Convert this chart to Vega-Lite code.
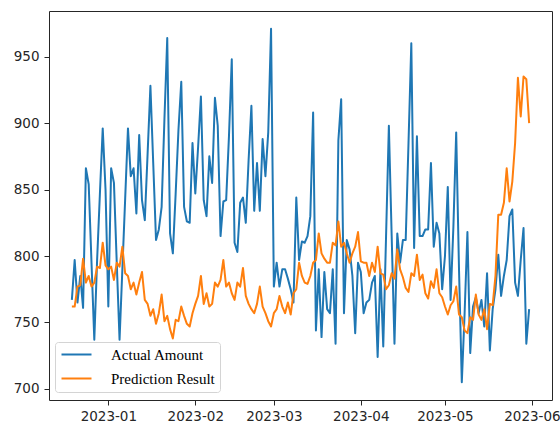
{
  "$schema": "https://vega.github.io/schema/vega-lite/v6.json",
  "width": 503,
  "height": 389,
  "autosize": {"type": "none"},
  "padding": {"left": 49, "top": 11, "right": 8, "bottom": 25},
  "background": "white",
  "config": {
    "view": {"stroke": "#262626", "strokeWidth": 1},
    "axis": {
      "grid": false,
      "domain": false,
      "ticks": true,
      "tickSize": 5,
      "tickWidth": 1,
      "tickColor": "#262626",
      "labelFont": "DejaVu Sans",
      "labelFontSize": 13.5,
      "labelColor": "#262626",
      "labelPadding": 4,
      "title": null
    }
  },
  "data": {
    "values": [
      {"date": "2022-12-19", "Actual Amount": 767, "Prediction Result": 762},
      {"date": "2022-12-20", "Actual Amount": 797, "Prediction Result": 762},
      {"date": "2022-12-21", "Actual Amount": 765, "Prediction Result": 777},
      {"date": "2022-12-22", "Actual Amount": 785, "Prediction Result": 778},
      {"date": "2022-12-23", "Actual Amount": 761, "Prediction Result": 798},
      {"date": "2022-12-24", "Actual Amount": 866, "Prediction Result": 780},
      {"date": "2022-12-25", "Actual Amount": 854, "Prediction Result": 785},
      {"date": "2022-12-26", "Actual Amount": 795, "Prediction Result": 777},
      {"date": "2022-12-27", "Actual Amount": 737, "Prediction Result": 780},
      {"date": "2022-12-28", "Actual Amount": 797, "Prediction Result": 792},
      {"date": "2022-12-29", "Actual Amount": 847, "Prediction Result": 791},
      {"date": "2022-12-30", "Actual Amount": 896, "Prediction Result": 810},
      {"date": "2022-12-31", "Actual Amount": 850, "Prediction Result": 793},
      {"date": "2023-01-01", "Actual Amount": 762, "Prediction Result": 790},
      {"date": "2023-01-02", "Actual Amount": 866, "Prediction Result": 792},
      {"date": "2023-01-03", "Actual Amount": 855, "Prediction Result": 782},
      {"date": "2023-01-04", "Actual Amount": 795, "Prediction Result": 795},
      {"date": "2023-01-05", "Actual Amount": 737, "Prediction Result": 792},
      {"date": "2023-01-06", "Actual Amount": 790, "Prediction Result": 807},
      {"date": "2023-01-07", "Actual Amount": 843, "Prediction Result": 787},
      {"date": "2023-01-08", "Actual Amount": 896, "Prediction Result": 785},
      {"date": "2023-01-09", "Actual Amount": 860, "Prediction Result": 775},
      {"date": "2023-01-10", "Actual Amount": 866, "Prediction Result": 780},
      {"date": "2023-01-11", "Actual Amount": 832, "Prediction Result": 771},
      {"date": "2023-01-12", "Actual Amount": 891, "Prediction Result": 780},
      {"date": "2023-01-13", "Actual Amount": 842, "Prediction Result": 788},
      {"date": "2023-01-14", "Actual Amount": 827, "Prediction Result": 767},
      {"date": "2023-01-15", "Actual Amount": 877, "Prediction Result": 764},
      {"date": "2023-01-16", "Actual Amount": 928, "Prediction Result": 755},
      {"date": "2023-01-17", "Actual Amount": 870, "Prediction Result": 760},
      {"date": "2023-01-18", "Actual Amount": 812, "Prediction Result": 749},
      {"date": "2023-01-19", "Actual Amount": 820, "Prediction Result": 757},
      {"date": "2023-01-20", "Actual Amount": 837, "Prediction Result": 771},
      {"date": "2023-01-21", "Actual Amount": 903, "Prediction Result": 751},
      {"date": "2023-01-22", "Actual Amount": 964, "Prediction Result": 755},
      {"date": "2023-01-23", "Actual Amount": 817, "Prediction Result": 745},
      {"date": "2023-01-24", "Actual Amount": 802, "Prediction Result": 738},
      {"date": "2023-01-25", "Actual Amount": 847, "Prediction Result": 752},
      {"date": "2023-01-26", "Actual Amount": 895, "Prediction Result": 751},
      {"date": "2023-01-27", "Actual Amount": 931, "Prediction Result": 762},
      {"date": "2023-01-28", "Actual Amount": 837, "Prediction Result": 755},
      {"date": "2023-01-29", "Actual Amount": 826, "Prediction Result": 749},
      {"date": "2023-01-30", "Actual Amount": 825, "Prediction Result": 747},
      {"date": "2023-01-31", "Actual Amount": 885, "Prediction Result": 757},
      {"date": "2023-02-01", "Actual Amount": 847, "Prediction Result": 764},
      {"date": "2023-02-02", "Actual Amount": 882, "Prediction Result": 770},
      {"date": "2023-02-03", "Actual Amount": 920, "Prediction Result": 785},
      {"date": "2023-02-04", "Actual Amount": 842, "Prediction Result": 764},
      {"date": "2023-02-05", "Actual Amount": 830, "Prediction Result": 772},
      {"date": "2023-02-06", "Actual Amount": 875, "Prediction Result": 762},
      {"date": "2023-02-07", "Actual Amount": 855, "Prediction Result": 764},
      {"date": "2023-02-08", "Actual Amount": 919, "Prediction Result": 780},
      {"date": "2023-02-09", "Actual Amount": 898, "Prediction Result": 777},
      {"date": "2023-02-10", "Actual Amount": 815, "Prediction Result": 782},
      {"date": "2023-02-11", "Actual Amount": 841, "Prediction Result": 797},
      {"date": "2023-02-12", "Actual Amount": 842, "Prediction Result": 777},
      {"date": "2023-02-13", "Actual Amount": 890, "Prediction Result": 780},
      {"date": "2023-02-14", "Actual Amount": 948, "Prediction Result": 772},
      {"date": "2023-02-15", "Actual Amount": 810, "Prediction Result": 767},
      {"date": "2023-02-16", "Actual Amount": 803, "Prediction Result": 780},
      {"date": "2023-02-17", "Actual Amount": 840, "Prediction Result": 777},
      {"date": "2023-02-18", "Actual Amount": 844, "Prediction Result": 791},
      {"date": "2023-02-19", "Actual Amount": 825, "Prediction Result": 770},
      {"date": "2023-02-20", "Actual Amount": 872, "Prediction Result": 764},
      {"date": "2023-02-21", "Actual Amount": 913, "Prediction Result": 760},
      {"date": "2023-02-22", "Actual Amount": 834, "Prediction Result": 757},
      {"date": "2023-02-23", "Actual Amount": 870, "Prediction Result": 764},
      {"date": "2023-02-24", "Actual Amount": 834, "Prediction Result": 777},
      {"date": "2023-02-25", "Actual Amount": 888, "Prediction Result": 762},
      {"date": "2023-02-26", "Actual Amount": 860, "Prediction Result": 757},
      {"date": "2023-02-27", "Actual Amount": 893, "Prediction Result": 751},
      {"date": "2023-02-28", "Actual Amount": 971, "Prediction Result": 747},
      {"date": "2023-03-01", "Actual Amount": 777, "Prediction Result": 757},
      {"date": "2023-03-02", "Actual Amount": 795, "Prediction Result": 760},
      {"date": "2023-03-03", "Actual Amount": 777, "Prediction Result": 770},
      {"date": "2023-03-04", "Actual Amount": 790, "Prediction Result": 762},
      {"date": "2023-03-05", "Actual Amount": 790, "Prediction Result": 757},
      {"date": "2023-03-06", "Actual Amount": 783, "Prediction Result": 765},
      {"date": "2023-03-07", "Actual Amount": 775, "Prediction Result": 756},
      {"date": "2023-03-08", "Actual Amount": 765, "Prediction Result": 772},
      {"date": "2023-03-09", "Actual Amount": 844, "Prediction Result": 775},
      {"date": "2023-03-10", "Actual Amount": 797, "Prediction Result": 795},
      {"date": "2023-03-11", "Actual Amount": 811, "Prediction Result": 785},
      {"date": "2023-03-12", "Actual Amount": 810, "Prediction Result": 780},
      {"date": "2023-03-13", "Actual Amount": 815, "Prediction Result": 779},
      {"date": "2023-03-14", "Actual Amount": 830, "Prediction Result": 785},
      {"date": "2023-03-15", "Actual Amount": 908, "Prediction Result": 795},
      {"date": "2023-03-16", "Actual Amount": 744, "Prediction Result": 797},
      {"date": "2023-03-17", "Actual Amount": 790, "Prediction Result": 817},
      {"date": "2023-03-18", "Actual Amount": 739, "Prediction Result": 802},
      {"date": "2023-03-19", "Actual Amount": 788, "Prediction Result": 798},
      {"date": "2023-03-20", "Actual Amount": 760, "Prediction Result": 795},
      {"date": "2023-03-21", "Actual Amount": 757, "Prediction Result": 795},
      {"date": "2023-03-22", "Actual Amount": 790, "Prediction Result": 810},
      {"date": "2023-03-23", "Actual Amount": 734, "Prediction Result": 808},
      {"date": "2023-03-24", "Actual Amount": 887, "Prediction Result": 826},
      {"date": "2023-03-25", "Actual Amount": 918, "Prediction Result": 807},
      {"date": "2023-03-26", "Actual Amount": 757, "Prediction Result": 810},
      {"date": "2023-03-27", "Actual Amount": 812, "Prediction Result": 802},
      {"date": "2023-03-28", "Actual Amount": 805, "Prediction Result": 795},
      {"date": "2023-03-29", "Actual Amount": 785, "Prediction Result": 802},
      {"date": "2023-03-30", "Actual Amount": 742, "Prediction Result": 807},
      {"date": "2023-03-31", "Actual Amount": 795, "Prediction Result": 818},
      {"date": "2023-04-01", "Actual Amount": 788, "Prediction Result": 796},
      {"date": "2023-04-02", "Actual Amount": 757, "Prediction Result": 795},
      {"date": "2023-04-03", "Actual Amount": 765, "Prediction Result": 795},
      {"date": "2023-04-04", "Actual Amount": 767, "Prediction Result": 785},
      {"date": "2023-04-05", "Actual Amount": 780, "Prediction Result": 795},
      {"date": "2023-04-06", "Actual Amount": 785, "Prediction Result": 788},
      {"date": "2023-04-07", "Actual Amount": 724, "Prediction Result": 807},
      {"date": "2023-04-08", "Actual Amount": 790, "Prediction Result": 787},
      {"date": "2023-04-09", "Actual Amount": 732, "Prediction Result": 786},
      {"date": "2023-04-10", "Actual Amount": 815, "Prediction Result": 775},
      {"date": "2023-04-11", "Actual Amount": 898, "Prediction Result": 778},
      {"date": "2023-04-12", "Actual Amount": 815, "Prediction Result": 787},
      {"date": "2023-04-13", "Actual Amount": 734, "Prediction Result": 783},
      {"date": "2023-04-14", "Actual Amount": 817, "Prediction Result": 805},
      {"date": "2023-04-15", "Actual Amount": 795, "Prediction Result": 790},
      {"date": "2023-04-16", "Actual Amount": 812, "Prediction Result": 784},
      {"date": "2023-04-17", "Actual Amount": 812, "Prediction Result": 776},
      {"date": "2023-04-18", "Actual Amount": 885, "Prediction Result": 773},
      {"date": "2023-04-19", "Actual Amount": 960, "Prediction Result": 787},
      {"date": "2023-04-20", "Actual Amount": 806, "Prediction Result": 785},
      {"date": "2023-04-21", "Actual Amount": 890, "Prediction Result": 801},
      {"date": "2023-04-22", "Actual Amount": 815, "Prediction Result": 782},
      {"date": "2023-04-23", "Actual Amount": 815, "Prediction Result": 786},
      {"date": "2023-04-24", "Actual Amount": 820, "Prediction Result": 772},
      {"date": "2023-04-25", "Actual Amount": 820, "Prediction Result": 768},
      {"date": "2023-04-26", "Actual Amount": 870, "Prediction Result": 781},
      {"date": "2023-04-27", "Actual Amount": 807, "Prediction Result": 776},
      {"date": "2023-04-28", "Actual Amount": 825, "Prediction Result": 790},
      {"date": "2023-04-29", "Actual Amount": 817, "Prediction Result": 772},
      {"date": "2023-04-30", "Actual Amount": 775, "Prediction Result": 769},
      {"date": "2023-05-01", "Actual Amount": 800, "Prediction Result": 762},
      {"date": "2023-05-02", "Actual Amount": 852, "Prediction Result": 756},
      {"date": "2023-05-03", "Actual Amount": 767, "Prediction Result": 763},
      {"date": "2023-05-04", "Actual Amount": 822, "Prediction Result": 766},
      {"date": "2023-05-05", "Actual Amount": 893, "Prediction Result": 777},
      {"date": "2023-05-06", "Actual Amount": 790, "Prediction Result": 756},
      {"date": "2023-05-07", "Actual Amount": 705, "Prediction Result": 754},
      {"date": "2023-05-08", "Actual Amount": 757, "Prediction Result": 744},
      {"date": "2023-05-09", "Actual Amount": 818, "Prediction Result": 742},
      {"date": "2023-05-10", "Actual Amount": 727, "Prediction Result": 754},
      {"date": "2023-05-11", "Actual Amount": 762, "Prediction Result": 752},
      {"date": "2023-05-12", "Actual Amount": 769, "Prediction Result": 771},
      {"date": "2023-05-13", "Actual Amount": 757, "Prediction Result": 756},
      {"date": "2023-05-14", "Actual Amount": 767, "Prediction Result": 752},
      {"date": "2023-05-15", "Actual Amount": 747, "Prediction Result": 760},
      {"date": "2023-05-16", "Actual Amount": 787, "Prediction Result": 745},
      {"date": "2023-05-17", "Actual Amount": 729, "Prediction Result": 764},
      {"date": "2023-05-18", "Actual Amount": 760, "Prediction Result": 763},
      {"date": "2023-05-19", "Actual Amount": 775, "Prediction Result": 785},
      {"date": "2023-05-20", "Actual Amount": 801, "Prediction Result": 831},
      {"date": "2023-05-21", "Actual Amount": 770, "Prediction Result": 831},
      {"date": "2023-05-22", "Actual Amount": 785, "Prediction Result": 840},
      {"date": "2023-05-23", "Actual Amount": 797, "Prediction Result": 866},
      {"date": "2023-05-24", "Actual Amount": 830, "Prediction Result": 841},
      {"date": "2023-05-25", "Actual Amount": 835, "Prediction Result": 856},
      {"date": "2023-05-26", "Actual Amount": 780, "Prediction Result": 885},
      {"date": "2023-05-27", "Actual Amount": 770, "Prediction Result": 934},
      {"date": "2023-05-28", "Actual Amount": 797, "Prediction Result": 905},
      {"date": "2023-05-29", "Actual Amount": 821, "Prediction Result": 935},
      {"date": "2023-05-30", "Actual Amount": 734, "Prediction Result": 933},
      {"date": "2023-05-31", "Actual Amount": 760, "Prediction Result": 900}
    ]
  },
  "transform": [
    {"fold": ["Actual Amount", "Prediction Result"], "as": ["series", "amount"]}
  ],
  "mark": {"type": "line", "strokeWidth": 2, "strokeJoin": "round"},
  "encoding": {
    "x": {
      "field": "date",
      "type": "temporal",
      "scale": {
        "type": "utc",
        "domain": [
          {"year": 2022, "month": 12, "date": 10, "hours": 20, "minutes": 24, "utc": true},
          {"year": 2023, "month": 6, "date": 8, "hours": 3, "minutes": 36, "utc": true}
        ]
      },
      "axis": {
        "values": [
          {"year": 2023, "month": 1, "date": 1, "utc": true},
          {"year": 2023, "month": 2, "date": 1, "utc": true},
          {"year": 2023, "month": 3, "date": 1, "utc": true},
          {"year": 2023, "month": 4, "date": 1, "utc": true},
          {"year": 2023, "month": 5, "date": 1, "utc": true},
          {"year": 2023, "month": 6, "date": 1, "utc": true}
        ],
        "format": "%Y-%m",
        "labelFlush": false,
        "labelOverlap": false
      }
    },
    "y": {
      "field": "amount",
      "type": "quantitative",
      "scale": {"domain": [691.7, 984.3], "nice": false, "zero": false},
      "axis": {"values": [700, 750, 800, 850, 900, 950], "labelPadding": 5}
    },
    "color": {
      "field": "series",
      "type": "nominal",
      "scale": {
        "domain": ["Actual Amount", "Prediction Result"],
        "range": ["#1f77b4", "#ff7f0e"]
      },
      "legend": {
        "orient": "none",
        "legendX": 6,
        "legendY": 331,
        "title": null,
        "symbolType": "M-1,0H4",
        "symbolSize": 144,
        "symbolStrokeWidth": 2,
        "labelFont": "Liberation Serif",
        "labelFontSize": 15,
        "labelColor": "black",
        "labelOffset": 36,
        "labelExpr": "datum.label + '\u2003'",
        "rowPadding": 8,
        "padding": 5,
        "fillColor": "rgba(255,255,255,0.8)",
        "strokeColor": "#d4d4d4",
        "cornerRadius": 3
      }
    }
  }
}
